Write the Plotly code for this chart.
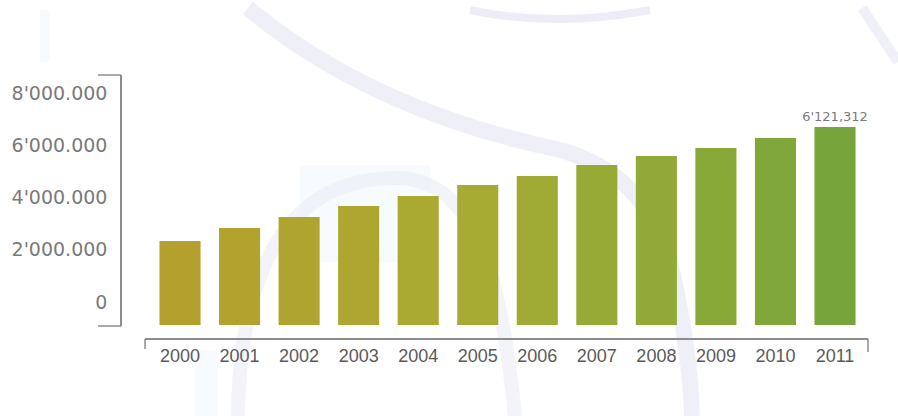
import plotly.graph_objects as go

# Annual totals, 2000-2011
years = ["2000", "2001", "2002", "2003", "2004", "2005",
         "2006", "2007", "2008", "2009", "2010", "2011"]
totals = [2597000, 2999000, 3339000, 3679000, 3988000, 4328000,
          4606000, 4946000, 5224000, 5471000, 5781000, 6121312]

# Left scale labels
scale_vals = [0, 2000000, 4000000, 6000000, 8000000]
scale_text = ["0", "2'000.000", "4'000.000", "6'000.000", "8'000.000"]

# Olive-to-green ramp across the years
bar_colors = ["#b4a02d", "#b2a22e", "#b0a430", "#ada731", "#aaa932", "#a6ab33",
              "#a0ab35", "#98aa36", "#90a937", "#88a838", "#80a739", "#78a53b"]


def swiss_int(v):
    """6121312 -> 6'121,312 style grouping used in the value callout."""
    s = f"{int(v):,}"
    return s.replace(",", "'", 1)


W, H = 898, 416
ML, MR, MT, MB = 121, 30, 75, 77
PW, PH = W - ML - MR, H - MT - MB


def px(x, y):
    # pixel position -> paper coordinates (for background decoration only)
    return (x - ML) / PW, (H - MB - y) / PH


def path(cmds):
    out = []
    for c in cmds:
        op, pts = c[0], c[1:]
        coords = " ".join("%.4f,%.4f" % px(*p) for p in pts)
        out.append(f"{op} {coords}")
    return " ".join(out)


fig = go.Figure()

# only the latest year carries a value callout
callouts = [""] * (len(years) - 1) + [swiss_int(totals[-1])]

fig.add_trace(go.Bar(
    x=years, y=totals,
    marker=dict(color=bar_colors, line=dict(width=0)),
    text=callouts, textposition="outside", cliponaxis=False,
    constraintext="none",
    outsidetextfont=dict(family="DejaVu Sans", size=13, color="#7a7a7a"),
    yaxis="y",
    hoverinfo="x+y",
    showlegend=False,
))

# carrier trace so the labelled scale axis gets drawn
fig.add_trace(go.Scatter(
    x=years[:1], y=scale_vals[:1], yaxis="y2",
    mode="markers", marker=dict(opacity=0),
    hoverinfo="skip", showlegend=False,
))

shapes = []
# faint watermark swooshes behind the chart
swoosh = dict(type="path", xref="paper", yref="paper", layer="below",
              fillcolor="rgba(0,0,0,0)")
shapes.append(dict(swoosh, path=path([
    ("M", (248, 8)), ("Q", (370, 110), (560, 150)),
    ("Q", (650, 175), (672, 270)), ("Q", (690, 350), (692, 416))]),
    line=dict(color="rgba(210,210,235,0.35)", width=16)))
shapes.append(dict(swoosh, path=path([
    ("M", (238, 416)), ("C", (240, 250), (300, 176), (400, 178)),
    ("C", (470, 182), (500, 260), (515, 416))]),
    line=dict(color="rgba(212,212,236,0.28)", width=14)))
shapes.append(dict(swoosh, path=path([
    ("M", (470, 10)), ("Q", (555, 28), (650, 10))]),
    line=dict(color="rgba(210,210,235,0.4)", width=8)))
shapes.append(dict(swoosh, path=path([
    ("M", (862, 8)), ("L", (898, 62))]),
    line=dict(color="rgba(212,212,236,0.35)", width=10)))
for (x0, y0, x1, y1) in [(40, 10, 50, 62), (195, 350, 218, 416), (300, 165, 430, 262)]:
    a = px(x0, y0)
    b = px(x1, y1)
    shapes.append(dict(type="rect", xref="paper", yref="paper", layer="below",
                       x0=a[0], y0=a[1], x1=b[0], y1=b[1],
                       fillcolor="rgba(228,238,249,0.25)", line=dict(width=0)))

# bracket ends of the two axes
axis_line = dict(color="#8c8c8c", width=1.5)
y_top, y_bot = 1.0, (H - MB - 326) / PH
arm = (98 - ML) / PW
shapes.append(dict(type="line", xref="paper", yref="paper", x0=arm, x1=0,
                   y0=y_top, y1=y_top, line=axis_line))
shapes.append(dict(type="line", xref="paper", yref="paper", x0=arm, x1=0,
                   y0=y_bot, y1=y_bot, line=axis_line))
x_left = (145 - ML) / PW
shapes.append(dict(type="line", xref="paper", yref="paper", x0=x_left, x1=x_left,
                   y0=0, y1=-10 / PH, line=axis_line))
shapes.append(dict(type="line", xref="paper", yref="paper", x0=1, x1=1,
                   y0=0, y1=-13 / PH, line=axis_line))

fig.update_layout(
    width=W, height=H,
    margin=dict(l=ML, r=MR, t=MT, b=MB, pad=0),
    paper_bgcolor="white", plot_bgcolor="rgba(0,0,0,0)",
    bargap=0.31,
    shapes=shapes,
    xaxis=dict(
        type="category",
        domain=[x_left, 1],
        anchor="free", position=0,
        range=[-0.588, 11.554],
        showline=True, linecolor="#8c8c8c", linewidth=1.5,
        showgrid=False, zeroline=False,
        ticks="", ticklabelstandoff=1,
        tickfont=dict(family="Liberation Sans", size=18, color="#5a5a5a"),
        fixedrange=True,
    ),
    yaxis=dict(
        domain=[y_bot, 1],
        range=[-31000, 7728000],
        showline=False, showgrid=False, zeroline=False,
        showticklabels=False, ticks="",
        fixedrange=True,
    ),
    yaxis2=dict(
        domain=[y_bot, 1],
        overlaying="y",
        anchor="free", position=0, side="left",
        range=[-919000, 8689000],
        tickmode="array", tickvals=scale_vals, ticktext=scale_text,
        showline=True, linecolor="#8c8c8c", linewidth=1.5,
        showgrid=False, zeroline=False,
        ticks="", ticklabelstandoff=9,
        tickfont=dict(family="DejaVu Sans", size=19, color="#7a7a7a"),
        fixedrange=True,
    ),
)

fig.write_html("out.html")
